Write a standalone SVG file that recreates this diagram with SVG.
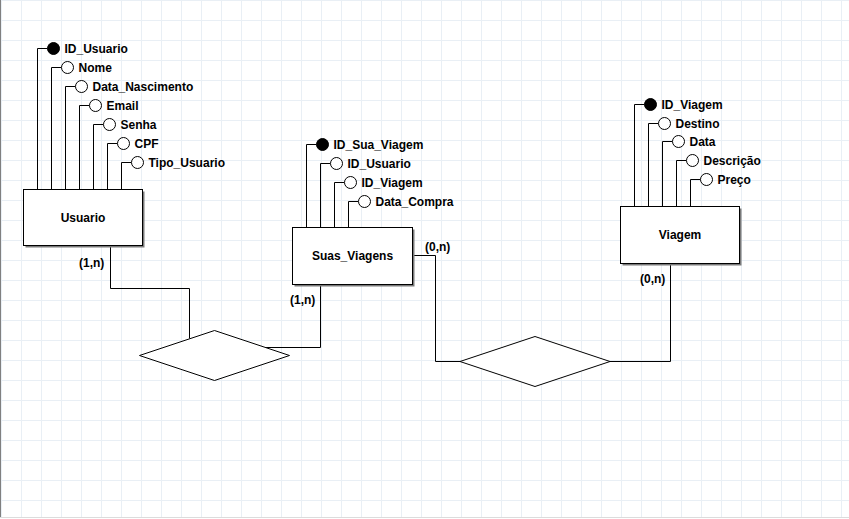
<svg xmlns="http://www.w3.org/2000/svg" width="849" height="519" viewBox="0 0 849 519">
<defs>
<pattern id="grid" x="0" y="0" width="20" height="20" patternUnits="userSpaceOnUse">
<path d="M1.5 0V20M0 0.5H20" stroke="#e9eff5" stroke-width="1" fill="none"/>
</pattern>
</defs>
<style>
text{font-family:"Liberation Sans",Arial,sans-serif;font-weight:bold;font-size:12px;fill:#000}
.ent{fill:#fff;stroke:#000;stroke-width:1}
.sh{fill:#7a7a7a}
.ln{fill:none;stroke:#000;stroke-width:1}
.att{fill:#fff;stroke:#000;stroke-width:1}
.key{fill:#000;stroke:#000;stroke-width:1}
.rel{fill:#fff;stroke:#000;stroke-width:1}
.c{text-anchor:middle}
</style>
<rect x="0" y="0" width="849" height="519" fill="#fff"/>
<rect x="0" y="0" width="849" height="518" fill="url(#grid)"/>
<line x1="0.5" y1="0" x2="0.5" y2="518" stroke="#808080"/>
<line x1="0" y1="517.5" x2="849" y2="517.5" stroke="#dcdcdc"/>

<g id="connectors">
<path class="ln" d="M110.5 245.5V288.5H189.5V338.5"/>
<path class="ln" d="M320.5 284.5V347.5H265.5"/>
<path class="ln" d="M412.5 255.5H435.5V361.5H460"/>
<path class="ln" d="M610 361.5H670.5V263.5"/>
<text x="79" y="266.5">(1,n)</text>
<text x="290" y="303.5">(1,n)</text>
<text x="425" y="251">(0,n)</text>
<text x="640" y="282.5">(0,n)</text>
</g>

<g id="rel1">
<polygon class="rel" points="139.5,355.5 214.5,330.5 289.5,355.5 214.5,380.5"/>
</g>
<g id="rel2">
<polygon class="rel" points="460,361.5 535,336.5 610,361.5 535,386.5"/>
</g>

<g id="usuario">
<path class="ln" d="M37.5 189.5V48.5H47.5M51.5 189.5V67.5H61.5M65.5 189.5V86.5H75.5M79.5 189.5V105.5H89.5M93.5 189.5V124.5H103.5M107.5 189.5V143.5H117.5M121.5 189.5V162.5H131.5"/>
<circle class="key" cx="53.5" cy="48.5" r="6"/>
<circle class="att" cx="67.5" cy="67.5" r="6"/>
<circle class="att" cx="81.5" cy="86.5" r="6"/>
<circle class="att" cx="95.5" cy="105.5" r="6"/>
<circle class="att" cx="109.5" cy="124.5" r="6"/>
<circle class="att" cx="123.5" cy="143.5" r="6"/>
<circle class="att" cx="137.5" cy="162.5" r="6"/>
<text x="64.5" y="53">ID_Usuario</text>
<text x="78.5" y="72">Nome</text>
<text x="92.5" y="91">Data_Nascimento</text>
<text x="106.5" y="110">Email</text>
<text x="120.5" y="129">Senha</text>
<text x="134.5" y="148">CPF</text>
<text x="148.5" y="167">Tipo_Usuario</text>
<rect class="sh" x="25.5" y="191.5" width="119" height="56"/>
<rect class="ent" x="23.5" y="189.5" width="119" height="56"/>
<text class="c" x="83" y="222">Usuario</text>
</g>

<g id="suas_viagens">
<path class="ln" d="M306.5 227.5V144.5H316.5M320.5 227.5V163.5H330.5M334.5 227.5V182.5H344.5M348.5 227.5V201.5H358.5"/>
<circle class="key" cx="322.5" cy="144.5" r="6"/>
<circle class="att" cx="336.5" cy="163.5" r="6"/>
<circle class="att" cx="350.5" cy="182.5" r="6"/>
<circle class="att" cx="364.5" cy="201.5" r="6"/>
<text x="333.5" y="149">ID_Sua_Viagem</text>
<text x="347.5" y="168">ID_Usuario</text>
<text x="361.5" y="187">ID_Viagem</text>
<text x="375.5" y="206">Data_Compra</text>
<rect class="sh" x="294.5" y="229.5" width="120" height="57"/>
<rect class="ent" x="292.5" y="227.5" width="120" height="57"/>
<text class="c" x="352.5" y="260">Suas_Viagens</text>
</g>

<g id="viagem">
<path class="ln" d="M634.5 206.5V104.5H644.5M648.5 206.5V123.5H658.5M662.5 206.5V141.5H672.5M676.5 206.5V160.5H686.5M690.5 206.5V179.5H700.5"/>
<circle class="key" cx="650.5" cy="104.5" r="6"/>
<circle class="att" cx="664.5" cy="123.5" r="6"/>
<circle class="att" cx="678.5" cy="141.5" r="6"/>
<circle class="att" cx="692.5" cy="160.5" r="6"/>
<circle class="att" cx="706.5" cy="179.5" r="6"/>
<text x="661.5" y="109">ID_Viagem</text>
<text x="675.5" y="128">Destino</text>
<text x="689.5" y="146">Data</text>
<text x="703.5" y="165">Descrição</text>
<text x="717.5" y="184">Preço</text>
<rect class="sh" x="622.5" y="208.5" width="119" height="57"/>
<rect class="ent" x="620.5" y="206.5" width="119" height="57"/>
<text class="c" x="680" y="239">Viagem</text>
</g>
</svg>
